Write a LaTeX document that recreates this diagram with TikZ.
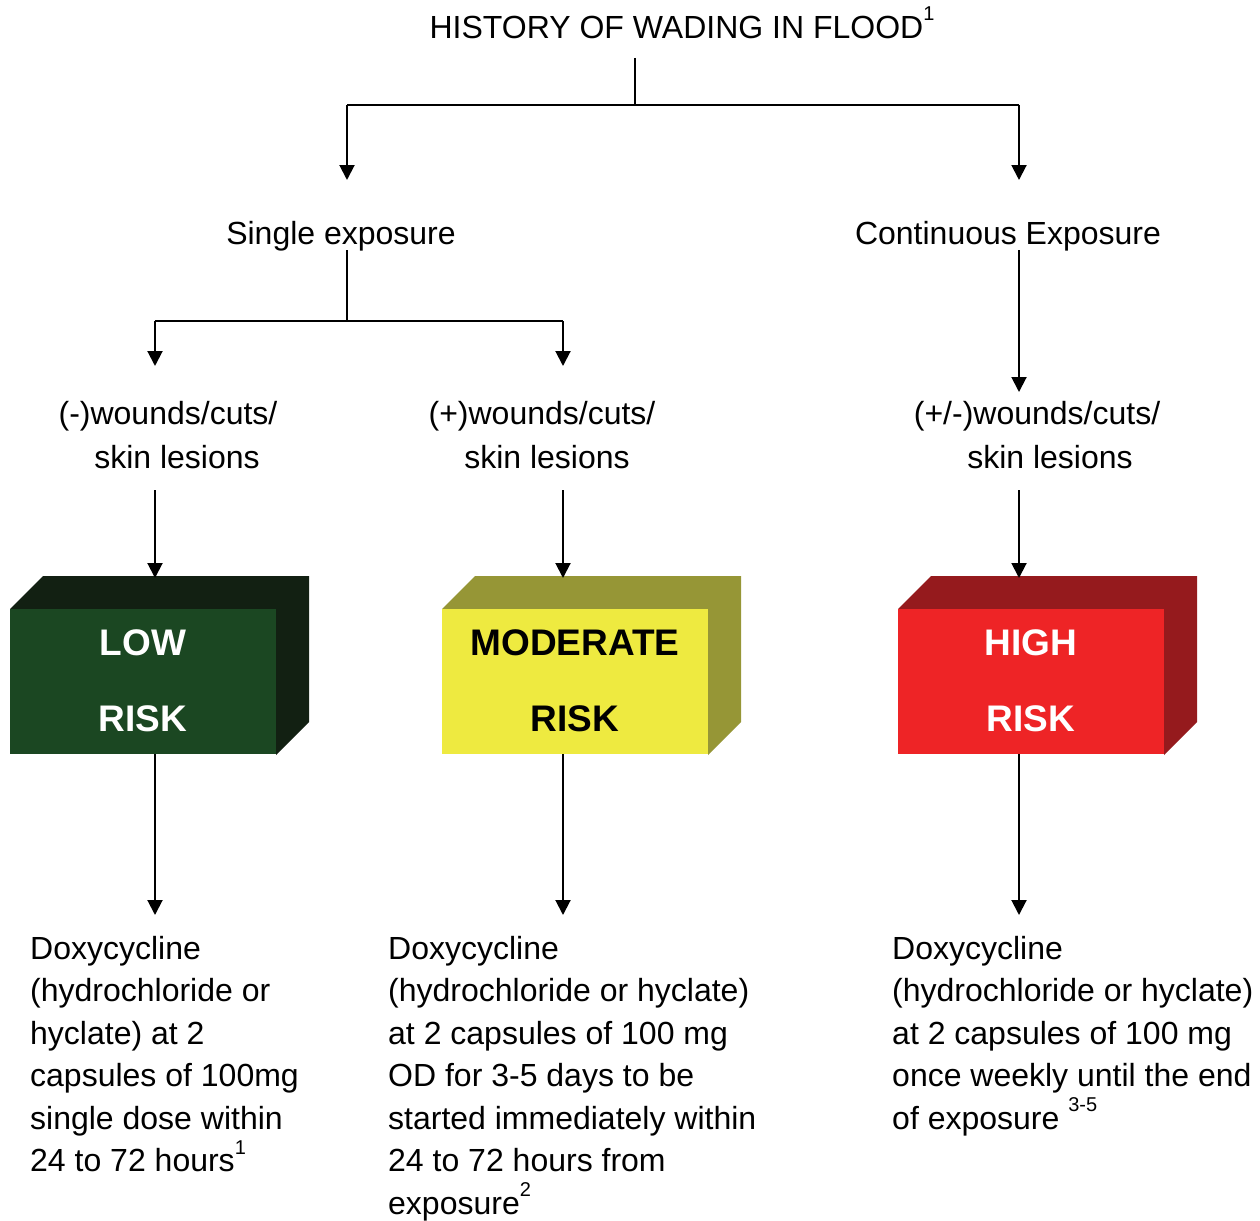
\documentclass[tikz,border=0pt]{standalone}
\usepackage{fontspec}
\setmainfont{Liberation Sans}
\usetikzlibrary{arrows.meta}
\definecolor{lowF}{HTML}{1B4722}
\definecolor{lowT}{HTML}{122012}
\definecolor{modF}{HTML}{EEEA40}
\definecolor{modT}{HTML}{969636}
\definecolor{highF}{HTML}{EE2426}
\definecolor{highT}{HTML}{951A1D}
\newcommand{\supr}[1]{\raisebox{0.55em}{\fontsize{20}{20}\selectfont #1}}
\begin{document}
\begin{tikzpicture}[x=1pt,y=-1pt,
  txt/.style={inner sep=0pt,font=\fontsize{32}{42.5}\selectfont},
  para/.style={txt,align=left,anchor=north west},
  arr/.style={line width=2pt,-{Triangle[width=15pt,length=15pt]}},
  ln/.style={line width=2pt},
  boxtxt/.style={inner sep=0pt,font=\fontsize{37}{44}\selectfont\bfseries}]
\useasboundingbox (0,0) rectangle (1260,1220);
% titles
\node[txt] (title) at (682,23) {HISTORY OF WADING IN FLOOD\supr{1}};
\coordinate (t1) at (635,58);
\coordinate (t2) at (635,105);
\coordinate (tl) at (347,105);
\coordinate (tr) at (1019,105);
\coordinate (sgl) at (347,180);
\coordinate (con) at (1019,180);
\draw[ln] (t1) -- (t2);
\draw[ln] (tl) -- (tr);
\draw[arr] (tl) -- (sgl);
\draw[arr] (tr) -- (con);
\node[txt] (single) at (341,236) {Single exposure};
\node[txt] (cont) at (1008,236) {Continuous Exposure};
% single split
\coordinate (s1) at (347,250);
\coordinate (s2) at (347,321);
\coordinate (sl) at (155,321);
\coordinate (sr) at (563,321);
\coordinate (sle) at (155,366);
\coordinate (sre) at (563,366);
\draw[ln] (s1) -- (s2);
\draw[ln] (sl) -- (sr);
\draw[arr] (sl) -- (sle);
\draw[arr] (sr) -- (sre);
\coordinate (c1) at (1019,250);
\coordinate (c2) at (1019,392);
\draw[arr] (c1) -- (c2);
% wound labels
\node[txt] (wl1) at (168,416) {(-)wounds/cuts/};
\node[txt] (wl2) at (177,457) {skin lesions};
\node[txt] (wm1) at (542,416) {(+)wounds/cuts/};
\node[txt] (wm2) at (547,457) {skin lesions};
\node[txt] (wh1) at (1037,416) {(+/-)wounds/cuts/};
\node[txt] (wh2) at (1050,457) {skin lesions};
% boxes
\newcommand{\riskbox}[3]{% x0, front colour, top colour
  \fill[#3] (#1,609) -- ++(33,-33) -- ++(266,0) -- ++(0,146) -- ++(-33,33) -- ++(0,-146) -- cycle;
  \fill[#2] (#1,609) rectangle ++(266,145);
}
\riskbox{10}{lowF}{lowT}
\riskbox{442}{modF}{modT}
\riskbox{898}{highF}{highT}
\node[boxtxt,text=white] (lowa) at (143,643) {LOW};
\node[boxtxt,text=white] (lowb) at (143,719) {RISK};
\node[boxtxt,text=black] (moda) at (575,643) {MODERATE};
\node[boxtxt,text=black] (modb) at (575,719) {RISK};
\node[boxtxt,text=white] (higha) at (1031,643) {HIGH};
\node[boxtxt,text=white] (highb) at (1031,719) {RISK};
% arrows to boxes
\coordinate (a1) at (155,490);
\coordinate (a2) at (563,490);
\coordinate (a3) at (1019,490);
\coordinate (b1) at (155,578);
\coordinate (b2) at (563,578);
\coordinate (b3) at (1019,578);
\draw[arr] (a1) -- (b1);
\draw[arr] (a2) -- (b2);
\draw[arr] (a3) -- (b3);
\coordinate (d1) at (155,754);
\coordinate (d2) at (563,754);
\coordinate (d3) at (1019,754);
\coordinate (e1) at (155,915);
\coordinate (e2) at (563,915);
\coordinate (e3) at (1019,915);
\draw[arr] (d1) -- (e1);
\draw[arr] (d2) -- (e2);
\draw[arr] (d3) -- (e3);
% dosage
\node[para] (dl) at (30,936) {Doxycycline\\(hydrochloride or\\hyclate) at 2\\capsules of 100mg\\single dose within\\24 to 72 hours\supr{1}};
\node[para] (dm) at (388,936) {Doxycycline\\(hydrochloride or hyclate)\\at 2 capsules of 100 mg\\OD for 3-5 days to be\\started immediately within\\24 to 72 hours from\\exposure\supr{2}};
\node[para] (dh) at (892,936) {Doxycycline\\(hydrochloride or hyclate)\\at 2 capsules of 100 mg\\once weekly until the end\\of exposure \supr{3-5}};
\end{tikzpicture}
\end{document}
